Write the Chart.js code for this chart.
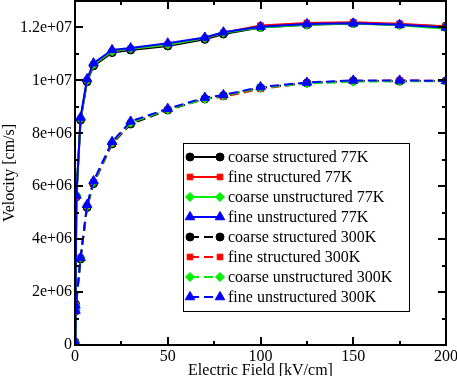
<!DOCTYPE html>
<html>
<head>
<meta charset="utf-8">
<script src="https://cdn.jsdelivr.net/npm/chart.js@4.4.0/dist/chart.umd.min.js"></script>
<style>
  body { margin: 0; background: #fff; }
  canvas { display: block; }
</style>
</head>
<body>
<canvas id="grafico" width="457" height="376"></canvas>
<script>
// field values (kV/cm)
const field77 = [0, 0.25, 0.75, 3, 6.5, 10, 20, 30, 50, 70, 80, 100, 125, 150, 175, 200];
const field300 = [0, 0.25, 3, 6.5, 10, 20, 30, 50, 70, 80, 100, 125, 150, 175, 200];

// velocities (cm/s)
const coarseStruct77 = [0.1e6, 1.55e6, 5.6e6, 8.5e6, 9.95e6, 10.55e6, 11.05e6, 11.15e6, 11.3e6, 11.55e6, 11.75e6, 12.0e6, 12.1e6, 12.15e6, 12.1e6, 12.05e6];
const fineStruct77 = [0.1e6, 1.5e6, 5.6e6, 8.55e6, 10.0e6, 10.6e6, 11.1e6, 11.2e6, 11.35e6, 11.6e6, 11.8e6, 12.07e6, 12.17e6, 12.2e6, 12.14e6, 12.04e6];
const coarseUnstr77 = [0.1e6, 1.5e6, 5.65e6, 8.55e6, 10.0e6, 10.6e6, 11.1e6, 11.2e6, 11.35e6, 11.6e6, 11.8e6, 12.0e6, 12.1e6, 12.15e6, 12.08e6, 11.95e6];
const fineUnstr77 = [0.1e6, 1.5e6, 5.65e6, 8.6e6, 10.05e6, 10.65e6, 11.15e6, 11.22e6, 11.4e6, 11.62e6, 11.82e6, 12.03e6, 12.13e6, 12.16e6, 12.1e6, 12.0e6];

const coarseStruct300 = [0.1e6, 1.3e6, 3.25e6, 5.2e6, 6.1e6, 7.6e6, 8.35e6, 8.88e6, 9.3e6, 9.42e6, 9.72e6, 9.9e6, 9.98e6, 9.97e6, 9.98e6];
const fineStruct300 = [0.1e6, 1.25e6, 3.3e6, 5.25e6, 6.15e6, 7.62e6, 8.4e6, 8.9e6, 9.32e6, 9.38e6, 9.68e6, 9.9e6, 9.97e6, 10.0e6, 9.98e6];
const coarseUnstr300 = [0.1e6, 1.3e6, 3.3e6, 5.25e6, 6.15e6, 7.65e6, 8.4e6, 8.9e6, 9.3e6, 9.42e6, 9.72e6, 9.88e6, 9.95e6, 9.97e6, 9.96e6];
const fineUnstr300 = [0.1e6, 1.3e6, 3.3e6, 5.3e6, 6.2e6, 7.68e6, 8.45e6, 8.93e6, 9.35e6, 9.45e6, 9.75e6, 9.92e6, 10.0e6, 10.0e6, 9.98e6];

const xTicks = [0, 50, 100, 150, 200];
const yTicks = [0, 2e6, 4e6, 6e6, 8e6, 1e7, 1.2e7];

const FONT = 'Liberation Serif';

function puntos(xs, ys) {
    return xs.map((x, i) => ({ x: x, y: ys[i] }));
}

function formatoExp(v) {
    if (v === 0) return '0';
    const partes = v.toExponential().split('e');
    let exp = parseInt(partes[1], 10);
    const signo = exp < 0 ? '-' : '+';
    exp = Math.abs(exp);
    return partes[0] + 'e' + signo + (exp < 10 ? '0' + exp : exp);
}

function serie(label, xs, ys, color, estilo, radio, dash, orden) {
    return {
        label: label,
        data: puntos(xs, ys),
        borderColor: color,
        backgroundColor: color,
        pointBackgroundColor: color,
        pointBorderColor: color,
        pointStyle: estilo,
        pointRadius: radio,
        pointBorderWidth: 1,
        borderWidth: 2,
        borderDash: dash,
        order: orden
    };
}

const dashed = [9, 5];

const datasets = [
    serie('coarse structured 77K', field77, coarseStruct77, '#000000', 'circle', 4, [], 4),
    serie('fine structured 77K', field77, fineStruct77, '#ff0000', 'rect', 4, [], 3),
    serie('coarse unstructured 77K', field77, coarseUnstr77, '#00ee00', 'rectRot', 4.5, [], 2),
    serie('fine unstructured 77K', field77, fineUnstr77, '#0000ff', 'triangle', 5.5, [], 1),
    serie('coarse structured 300K', field300, coarseStruct300, '#000000', 'circle', 4, dashed, 4),
    serie('fine structured 300K', field300, fineStruct300, '#ff0000', 'rect', 4, dashed, 3),
    serie('coarse unstructured 300K', field300, coarseUnstr300, '#00ee00', 'rectRot', 4.5, dashed, 2),
    serie('fine unstructured 300K', field300, fineUnstr300, '#0000ff', 'triangle', 5.5, dashed, 1)
];

// marco, marcas interiores y leyenda dentro del grafico
const marcoPlugin = {
    id: 'marco',
    afterDraw(chart) {
        const ctx = chart.ctx;
        const a = chart.chartArea;
        const sx = chart.scales.x;
        const sy = chart.scales.y;
        ctx.save();
        ctx.strokeStyle = '#000';
        ctx.lineWidth = 2;
        ctx.setLineDash([]);

        // marcas eje x (mayores cada 50, menores cada 25)
        for (let v = 0; v <= 200; v += 25) {
            const px = Math.round(sx.getPixelForValue(v));
            const len = v % 50 === 0 ? 8 : 4;
            ctx.beginPath();
            ctx.moveTo(px, a.bottom); ctx.lineTo(px, a.bottom - len);
            ctx.moveTo(px, a.top); ctx.lineTo(px, a.top + len);
            ctx.stroke();
        }
        // marcas eje y (mayores cada 2e6, menores cada 1e6)
        for (let v = 0; v <= 1.3e7; v += 1e6) {
            const py = Math.round(sy.getPixelForValue(v));
            const len = (v / 1e6) % 2 === 0 ? 8 : 4;
            ctx.beginPath();
            ctx.moveTo(a.left, py); ctx.lineTo(a.left + len, py);
            ctx.moveTo(a.right, py); ctx.lineTo(a.right - len, py);
            ctx.stroke();
        }
        ctx.strokeRect(a.left, a.top, a.right - a.left, a.bottom - a.top);

        // leyenda
        const lx = a.left + 108;
        const ly = a.top + 142;
        const lw = 226;
        const lh = 168;
        ctx.fillStyle = '#fff';
        ctx.fillRect(lx, ly, lw, lh);
        ctx.lineWidth = 1;
        ctx.strokeRect(lx + 0.5, ly + 0.5, lw, lh);
        ctx.font = '16px "' + FONT + '"';
        ctx.textBaseline = 'middle';
        chart.data.datasets.forEach((ds, i) => {
            const y = ly + 14 + i * 20;
            const x1 = lx + 7;
            const x2 = lx + 37;
            ctx.strokeStyle = ds.borderColor;
            ctx.lineWidth = 2;
            ctx.setLineDash(ds.borderDash);
            ctx.beginPath();
            ctx.moveTo(x1, y); ctx.lineTo(x2, y);
            ctx.stroke();
            ctx.setLineDash([]);
            ctx.fillStyle = ds.backgroundColor;
            ctx.strokeStyle = ds.borderColor;
            ctx.lineWidth = 1;
            const opts = { pointStyle: ds.pointStyle, radius: ds.pointRadius, borderWidth: 1, rotation: 0 };
            Chart.helpers.drawPoint(ctx, opts, x1, y);
            Chart.helpers.drawPoint(ctx, opts, x2, y);
            ctx.fillStyle = '#000';
            ctx.fillText(ds.label, lx + 45, y + 1);
        });
        ctx.restore();
    }
};

const ctx = document.getElementById('grafico').getContext('2d');

new Chart(ctx, {
    type: 'line',
    data: { datasets: datasets },
    plugins: [marcoPlugin],
    options: {
        responsive: false,
        animation: false,
        layout: { autoPadding: false, padding: { top: 1, right: 11, left: 0, bottom: 0 } },
        plugins: {
            legend: { display: false },
            tooltip: { enabled: false }
        },
        scales: {
            x: {
                type: 'linear',
                min: 0,
                max: 200,
                afterBuildTicks: (scale) => { scale.ticks = xTicks.map(v => ({ value: v })); },
                afterFit: (scale) => {
                    scale.height = 31;
                    scale.paddingLeft = 0;
                    scale.paddingRight = 0;
                },
                grid: { display: false, drawTicks: false },
                border: { display: false },
                ticks: {
                    color: '#000',
                    padding: 2,
                    maxRotation: 0,
                    font: { family: FONT, size: 16 }
                },
                title: {
                    display: true,
                    text: 'Electric Field [kV/cm]',
                    color: '#000',
                    padding: { top: 0, bottom: -4 },
                    font: { family: FONT, size: 16 }
                }
            },
            y: {
                type: 'linear',
                min: 0,
                max: 1.3e7,
                afterBuildTicks: (scale) => { scale.ticks = yTicks.map(v => ({ value: v })); },
                afterFit: (scale) => {
                    scale.width = 75;
                    scale.paddingTop = 0;
                    scale.paddingBottom = 0;
                },
                grid: { display: false, drawTicks: false },
                border: { display: false },
                ticks: {
                    color: '#000',
                    padding: 3,
                    font: { family: FONT, size: 16 },
                    callback: (v) => formatoExp(v)
                },
                title: {
                    display: true,
                    text: 'Velocity [cm/s]',
                    color: '#000',
                    padding: { top: 0, bottom: 0 },
                    font: { family: FONT, size: 16 }
                }
            }
        }
    }
});
</script>
</body>
</html>
